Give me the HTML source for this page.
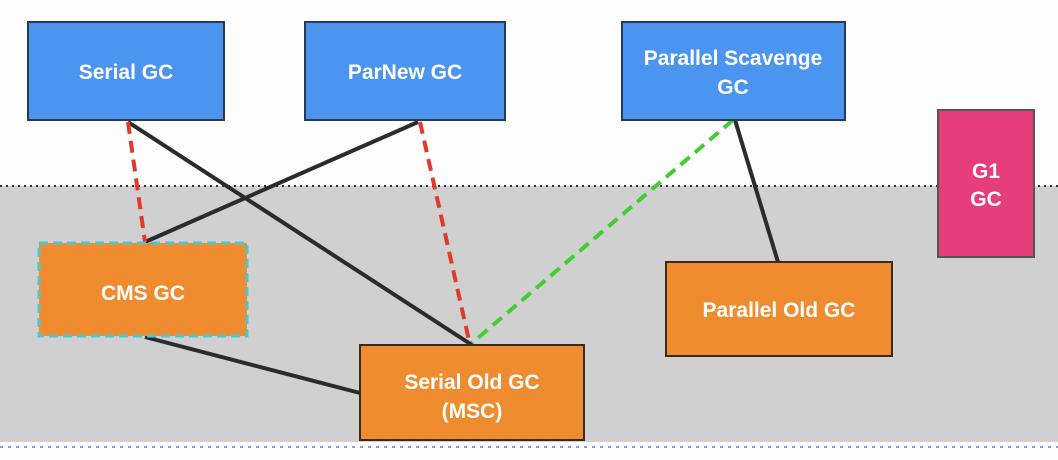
<!DOCTYPE html>
<html><head><style>body{margin:0;background:#fff}svg{display:block}</style></head><body>
<svg width="1058" height="460" viewBox="0 0 1058 460" xmlns="http://www.w3.org/2000/svg" font-family="Liberation Sans, sans-serif" font-weight="bold" fill="#fff">
<rect x="0" y="0" width="1058" height="460" fill="#fdfdfd"/>
<rect x="0" y="186" width="1058" height="256" fill="#d0d0d0"/>
<line x1="0" y1="186" x2="1058" y2="186" stroke="#333" stroke-width="2" stroke-dasharray="2,4"/>
<line x1="0" y1="447" x2="1058" y2="447" stroke="#5a6fd8" stroke-width="2" stroke-dasharray="3,5" opacity="0.7"/>
<g stroke-width="4">
<line x1="128" y1="122" x2="472" y2="345" stroke="#2b2b2b"/>
<line x1="418" y1="122" x2="145" y2="242" stroke="#2b2b2b"/>
<line x1="735" y1="120" x2="778" y2="262" stroke="#2b2b2b"/>
<line x1="145" y1="337" x2="360" y2="393" stroke="#2b2b2b"/>
<line x1="128" y1="122" x2="145" y2="242" stroke="#e23a2a" stroke-dasharray="12,7"/>
<line x1="420" y1="122" x2="470" y2="345" stroke="#e23a2a" stroke-dasharray="12,7"/>
<line x1="733" y1="120" x2="472" y2="343" stroke="#44cc33" stroke-dasharray="12,7"/>
</g>
<g stroke="#2a3a55" stroke-width="2" fill="#4b94f0">
<rect x="28" y="22" width="196" height="98"/>
<rect x="305" y="22" width="200" height="98"/>
<rect x="622" y="22" width="223" height="98"/>
</g>
<rect x="938" y="110" width="96" height="147" fill="#e63d7c" stroke="#555" stroke-width="2"/>
<rect x="39" y="243" width="208" height="93" fill="#f08c30" stroke="#4cc7d2" stroke-width="3" stroke-dasharray="9,5"/>
<rect x="360" y="345" width="224" height="95" fill="#f08c30" stroke="#3a2a1a" stroke-width="2"/>
<rect x="666" y="262" width="226" height="94" fill="#f08c30" stroke="#3a2a1a" stroke-width="2"/>
<g font-size="21" text-anchor="middle">
<text x="126" y="79">Serial GC</text>
<text x="405" y="79">ParNew GC</text>
<text x="733" y="65">Parallel Scavenge</text>
<text x="733" y="94">GC</text>
<text x="986" y="178">G1</text>
<text x="986" y="206">GC</text>
<text x="143" y="300">CMS GC</text>
<text x="779" y="317">Parallel Old GC</text>
<text x="472" y="389">Serial Old GC</text>
<text x="472" y="418">(MSC)</text>
</g>
</svg>
</body></html>
